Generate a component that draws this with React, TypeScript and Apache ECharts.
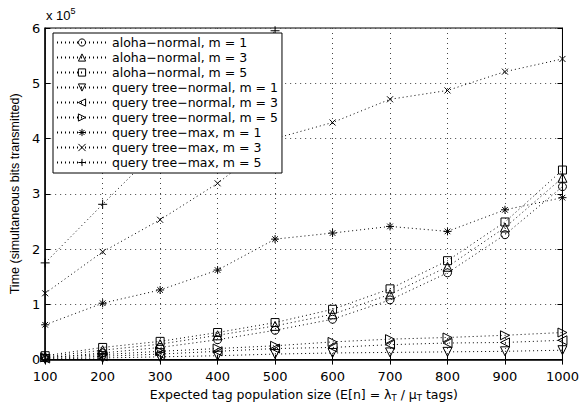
import React, { useEffect, useRef } from "react";
import * as echarts from "echarts";

const tagSizes = [100, 200, 300, 400, 500, 600, 700, 800, 900, 1000];
const yTicks = [0, 1, 2, 3, 4, 5, 6];

const alohaM1 = [3000, 12000, 22000, 36000, 53000, 73000, 108000, 157000, 226000, 313000];
const alohaM3 = [5000, 17000, 28000, 44000, 61000, 82000, 118000, 168000, 239000, 329000];
const alohaM5 = [7000, 22000, 33000, 49000, 67000, 91000, 128000, 179000, 249000, 343000];
const qtNormalM1 = [1000, 3000, 5000, 7000, 10000, 12000, 13000, 14000, 15000, 17000];
const qtNormalM3 = [2000, 6000, 10000, 15000, 20000, 22000, 27000, 30000, 31000, 35000];
const qtNormalM5 = [4000, 9000, 15000, 20000, 25000, 32000, 37000, 40000, 44000, 49000];
const qtMaxM1 = [63000, 102000, 126000, 162000, 218000, 229000, 241000, 232000, 271000, 293000];
const qtMaxM3 = [120000, 195000, 253000, 319000, 400000, 429000, 471000, 487000, 521000, 544000];
const qtMaxM5 = [175000, 281000, 385000, 490000, 595000];

const seriesNames = [
  "aloha\u2212normal, m = 1",
  "aloha\u2212normal, m = 3",
  "aloha\u2212normal, m = 5",
  "query tree\u2212normal, m = 1",
  "query tree\u2212normal, m = 3",
  "query tree\u2212normal, m = 5",
  "query tree\u2212max, m = 1",
  "query tree\u2212max, m = 3",
  "query tree\u2212max, m = 5",
];

const SYM = {
  circle: "circle",
  up: "path://M5,0L10,9L0,9Z",
  square: "path://M0,0L10,0L10,10L0,10Z",
  down: "path://M0,0L10,0L5,9Z",
  left: "path://M9,0L9,10L0,5Z",
  right: "path://M0,0L9,5L0,10Z",
  star: "path://M5,0L5,10M0,5L10,5M1.5,1.5L8.5,8.5M8.5,1.5L1.5,8.5",
  cross: "path://M0,0L10,10M10,0L0,10",
  plus: "path://M5,0L5,10M0,5L10,5",
};

const FONT = "'DejaVu Sans', 'Liberation Sans', Arial, sans-serif";
const FONT_Y = "'Liberation Sans', Arial, Helvetica, sans-serif";

export default function App() {
  const ref = useRef<HTMLDivElement>(null);
  useEffect(() => {
    if (!ref.current) return;
    const chart = echarts.init(ref.current, undefined, { renderer: "svg" });
    const all = [alohaM1, alohaM3, alohaM5, qtNormalM1, qtNormalM3, qtNormalM5, qtMaxM1, qtMaxM3, qtMaxM5];
    const syms = [SYM.circle, SYM.up, SYM.square, SYM.down, SYM.left, SYM.right, SYM.star, SYM.cross, SYM.plus];
    const sizes = [8, 9, 8, 9, 9, 9, 8, 6, 9];
    const series = all.map((vals, i) => ({
      name: seriesNames[i],
      type: "line",
      data: vals.map((v, j) => [tagSizes[j], v]),
      symbol: syms[i],
      symbolSize: sizes[i],
      showAllSymbol: true,
      clip: true,
      lineStyle: { color: "#000", width: 1, type: [1, 3] },
      itemStyle: { color: "rgba(0,0,0,0)", borderColor: "#000", borderWidth: 1 },
      emphasis: { disabled: true },
    }));
    const axisCommon = {
      min: 100,
      max: 1000,
      interval: 100,
    };
    chart.setOption({
      animation: false,
      textStyle: { fontFamily: FONT },
      grid: { left: 44, right: 16, top: 28, bottom: 36, show: true, borderColor: "#000", borderWidth: 1, backgroundColor: "#fff" },
      legend: {
        left: 53,
        top: 33,
        orient: "vertical",
        data: seriesNames,
        itemWidth: 50,
        itemHeight: 9,
        itemGap: 0,
        padding: [2, 4, 3, 3],
        borderColor: "#000",
        borderWidth: 1,
        backgroundColor: "#fff",
        itemStyle: { color: "rgba(0,0,0,0)", borderColor: "#000", borderWidth: 1 },
        textStyle: { fontFamily: FONT, fontSize: 12.5, color: "#000", lineHeight: 15 },
        selectedMode: false,
      },
      graphic: [
        {
          type: "text",
          left: 46,
          top: 6,
          style: {
            text: "{a|x 10}{b|5}",
            rich: {
              a: { fontFamily: FONT_Y, fontSize: 13, fill: "#000", padding: [6, 0, 0, 0] },
              b: { fontFamily: FONT_Y, fontSize: 9, fill: "#000", padding: [0, 0, 4, 0] },
            },
          },
        },
      ],
      xAxis: [
        {
          type: "value",
          ...axisCommon,
          name: "Expected tag population size (E[n] = \u03bb{s|T} / \u03bc{s|T} tags)",
          nameLocation: "middle",
          nameGap: 25,
          nameTextStyle: {
            fontFamily: FONT,
            fontSize: 12.5,
            color: "#000",
            rich: { s: { fontFamily: FONT, fontSize: 8.5, color: "#000", padding: [7, 0, 0, 0] } },
          },
          axisLine: { lineStyle: { color: "#000", width: 1.5 } },
          axisTick: { inside: true, length: 5, lineStyle: { color: "#000" } },
          axisLabel: { color: "#000", fontSize: 13, margin: 10, fontFamily: FONT, formatter: (v: number) => String(v) },
          splitLine: { show: true, lineStyle: { color: "#444", width: 1, type: [1, 4] } },
        },
        {
          type: "value",
          ...axisCommon,
          position: "top",
          axisLine: { show: true, lineStyle: { color: "#000", width: 1 } },
          axisTick: { inside: true, length: 5, lineStyle: { color: "#000" } },
          axisLabel: { show: false },
          splitLine: { show: false },
        },
      ],
      yAxis: [
        {
          type: "value",
          min: 0,
          max: 600000,
          interval: 100000,
          name: "Time (simultaneous bits transmitted)",
          nameLocation: "middle",
          nameGap: 19,
          nameTextStyle: { fontFamily: FONT_Y, fontSize: 12.5, color: "#000" },
          axisLine: { show: true, lineStyle: { color: "#000", width: 1.5 } },
          axisTick: { show: true, inside: true, length: 5, lineStyle: { color: "#000" } },
          axisLabel: {
            color: "#000",
            fontSize: 13,
            margin: 5,
            fontFamily: FONT,
            formatter: (v: number) => String(yTicks[Math.round(v / 100000)]),
          },
          splitLine: { show: true, lineStyle: { color: "#444", width: 1, type: [1, 4] } },
        },
        {
          type: "value",
          min: 0,
          max: 600000,
          interval: 100000,
          position: "right",
          axisLine: { show: true, lineStyle: { color: "#000", width: 1 } },
          axisTick: { show: true, inside: true, length: 5, lineStyle: { color: "#000" } },
          axisLabel: { show: false },
          splitLine: { show: false },
        },
      ],
      series,
    });
    return () => chart.dispose();
  }, []);
  return <div ref={ref} style={{ width: 582, height: 407, position: "absolute", left: 0, top: 0 }} />;
}
